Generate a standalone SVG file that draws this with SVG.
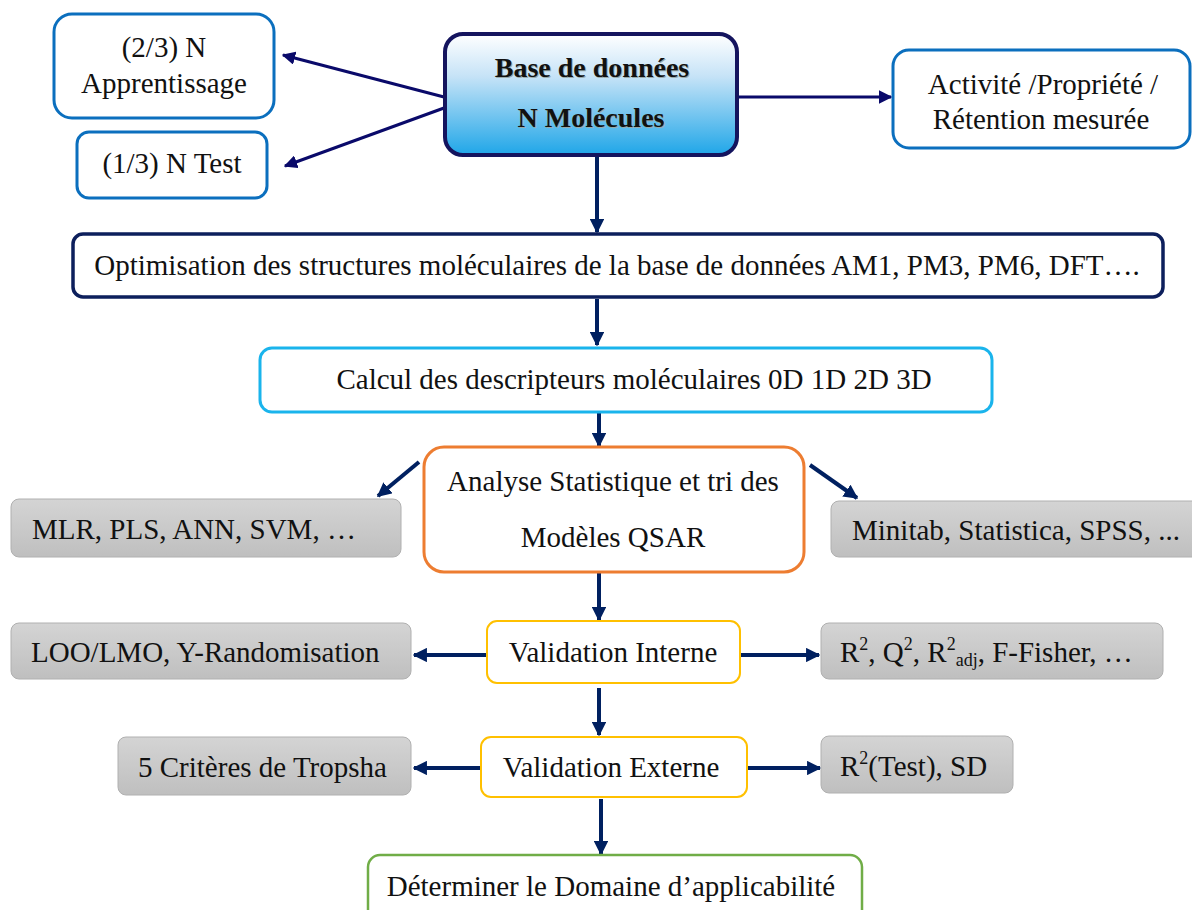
<svg xmlns="http://www.w3.org/2000/svg" width="1192" height="910" viewBox="0 0 1192 910">
<defs>
<linearGradient id="gBlue" x1="0" y1="0" x2="0" y2="1">
<stop offset="0" stop-color="#ffffff"/>
<stop offset="0.35" stop-color="#c6e3f7"/>
<stop offset="1" stop-color="#1fa6e8"/>
</linearGradient>
<linearGradient id="gGray" x1="0" y1="0" x2="0" y2="1">
<stop offset="0" stop-color="#d4d4d4"/>
<stop offset="1" stop-color="#bfbfbf"/>
</linearGradient>
<marker id="ah" viewBox="0 0 10 10" refX="9" refY="5" markerWidth="3.6" markerHeight="3.6" orient="auto" markerUnits="strokeWidth">
<path d="M0,0 L10,5 L0,10 z" fill="#002060"/>
</marker>
<marker id="ah2" viewBox="0 0 10 10" refX="9" refY="5" markerWidth="4.5" markerHeight="4.5" orient="auto" markerUnits="strokeWidth">
<path d="M0,0 L10,5 L0,10 z" fill="#0a0a6a"/>
</marker>
</defs>
<style>
text{font-family:"Liberation Serif","Times New Roman",serif;font-size:29px;fill:#111;}
.c{text-anchor:middle;}
.b{font-weight:bold;font-size:28px;}
.sh{fill:#9aa;}
.sup{font-size:18px;}
.blue{fill:#fff;stroke:#0b6fbe;stroke-width:3;}
.gray{fill:url(#gGray);stroke:#b0b0b0;stroke-width:1;}
.yel{fill:#fff;stroke:#ffc000;stroke-width:2;}
.arr{stroke:#002060;stroke-width:4;fill:none;marker-end:url(#ah);}
.arr2{stroke:#0a0a6a;stroke-width:3;fill:none;marker-end:url(#ah2);}
</style>
<rect width="1192" height="910" fill="#fff"/>

<g id="connectors">
<line class="arr2" x1="444" y1="97" x2="283" y2="55"/>
<line class="arr2" x1="444" y1="108" x2="285" y2="166"/>
<line class="arr2" x1="738" y1="97" x2="891" y2="97"/>
<line class="arr" x1="597" y1="156" x2="597" y2="232"/>
<line class="arr" x1="597" y1="299" x2="597" y2="345"/>
<line class="arr" x1="599" y1="413" x2="599" y2="446"/>
<line class="arr" x1="419" y1="462" x2="378" y2="496"/>
<line class="arr" x1="810" y1="465" x2="857" y2="498"/>
<line class="arr" x1="599" y1="573" x2="599" y2="620"/>
<line class="arr" x1="487" y1="655" x2="414" y2="655"/>
<line class="arr" x1="741" y1="655" x2="819" y2="655"/>
<line class="arr" x1="599" y1="688" x2="599" y2="735"/>
<line class="arr" x1="481" y1="768" x2="414" y2="768"/>
<line class="arr" x1="748" y1="768" x2="820" y2="768"/>
<line class="arr" x1="601" y1="799" x2="601" y2="854"/>
</g>

<g id="apprentissage">
<rect class="blue" x="54" y="14" width="220" height="104" rx="18"/>
<text class="c" x="164" y="57">(2/3) N</text>
<text class="c" x="164" y="93">Apprentissage</text>
</g>

<g id="test">
<rect class="blue" x="77" y="132" width="190" height="66" rx="12"/>
<text class="c" x="172" y="173">(1/3) N Test</text>
</g>

<g id="base">
<rect x="445" y="34" width="292" height="121" rx="18" fill="url(#gBlue)" stroke="#14145e" stroke-width="4"/>
<text class="c b sh" x="593" y="78">Base de données</text>
<text class="c b" x="592" y="77">Base de données</text>
<text class="c b sh" x="592" y="128">N Molécules</text>
<text class="c b" x="591" y="127">N Molécules</text>
</g>

<g id="activite">
<rect class="blue" x="893" y="50" width="297" height="98" rx="16"/>
<text class="c" x="1043" y="94">Activité /Propriété /</text>
<text class="c" x="1041" y="129">Rétention mesurée</text>
</g>

<g id="optimisation">
<rect x="73" y="234" width="1090" height="63" rx="10" fill="#fff" stroke="#0d1f5c" stroke-width="3.5"/>
<text class="c" x="617" y="275">Optimisation des structures moléculaires de la base de données AM1, PM3, PM6, DFT….</text>
</g>

<g id="calcul">
<rect x="260" y="348" width="732" height="64" rx="12" fill="#fff" stroke="#1ab4ec" stroke-width="3"/>
<text class="c" x="634" y="389">Calcul des descripteurs moléculaires 0D 1D 2D 3D</text>
</g>

<g id="analyse">
<rect x="424" y="447" width="380" height="125" rx="20" fill="#fff" stroke="#ed7d31" stroke-width="3"/>
<text class="c" x="613" y="491">Analyse Statistique et tri des</text>
<text class="c" x="613" y="547">Modèles QSAR</text>
</g>

<g id="mlr">
<rect class="gray" x="11" y="499" width="390" height="58" rx="8"/>
<text x="32" y="539">MLR, PLS, ANN, SVM, …</text>
</g>

<g id="minitab">
<rect class="gray" x="831" y="501" width="380" height="56" rx="8"/>
<text x="852" y="540">Minitab, Statistica, SPSS, ...</text>
</g>

<g id="validation-interne">
<rect class="yel" x="487" y="621" width="253" height="62" rx="10"/>
<text class="c" x="613" y="662">Validation Interne</text>
</g>

<g id="loo">
<rect class="gray" x="11" y="623" width="400" height="56" rx="8"/>
<text x="31" y="662">LOO/LMO, Y-Randomisation</text>
</g>

<g id="r2q2">
<rect class="gray" x="821" y="623" width="342" height="56" rx="8"/>
<text x="840" y="662">R<tspan class="sup" dy="-12">2</tspan><tspan dy="12">, Q</tspan><tspan class="sup" dy="-12">2</tspan><tspan dy="12">, R</tspan><tspan class="sup" dy="-12">2</tspan><tspan class="sup" dy="16">adj</tspan><tspan dy="-4">, F-Fisher, …</tspan></text>
</g>

<g id="validation-externe">
<rect class="yel" x="481" y="737" width="266" height="60" rx="10"/>
<text class="c" x="611" y="777">Validation Externe</text>
</g>

<g id="tropsha">
<rect class="gray" x="118" y="737" width="293" height="58" rx="8"/>
<text x="138" y="777">5 Critères de Tropsha</text>
</g>

<g id="r2test">
<rect class="gray" x="821" y="736" width="192" height="57" rx="8"/>
<text x="840" y="776">R<tspan class="sup" dy="-12">2</tspan><tspan dy="12">(Test), SD</tspan></text>
</g>

<g id="domaine">
<rect x="368" y="855" width="494" height="70" rx="12" fill="#fff" stroke="#70ad47" stroke-width="2.5"/>
<text class="c" x="611" y="896">Déterminer le Domaine d’applicabilité</text>
</g>
</svg>
